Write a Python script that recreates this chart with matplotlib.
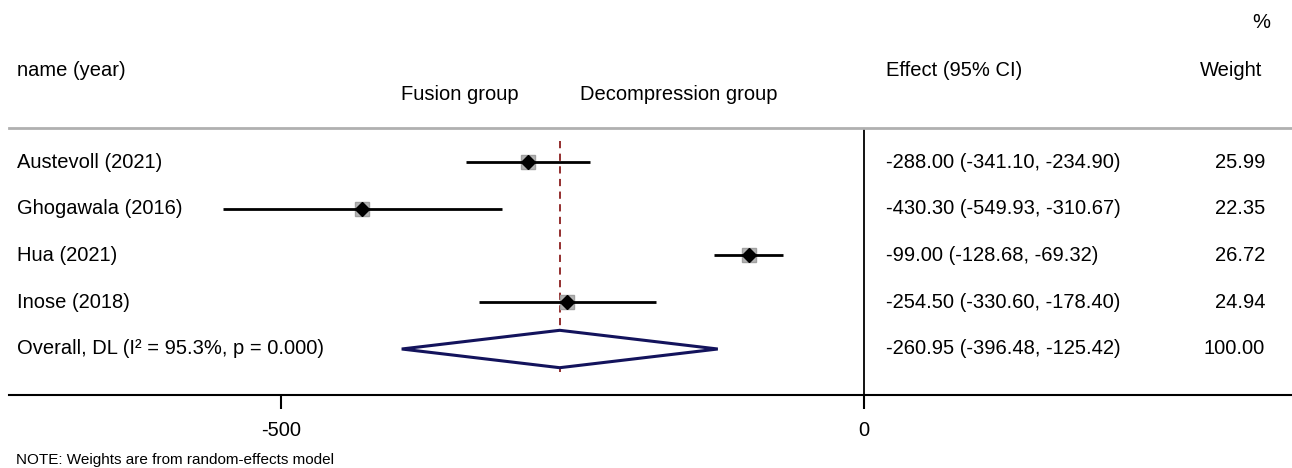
import matplotlib
matplotlib.use("Agg")
import matplotlib.pyplot as plt
import matplotlib.transforms as mtransforms
import numpy as np

plt.rcParams['font.family'] = ['Liberation Sans', 'DejaVu Sans']

studies = ["Austevoll (2021)", "Ghogawala (2016)", "Hua (2021)", "Inose (2018)"]
effects = [-288.00, -430.30, -99.00, -254.50]
lower = [-341.10, -549.93, -128.68, -330.60]
upper = [-234.90, -310.67, -69.32, -178.40]
weights = [25.99, 22.35, 26.72, 24.94]
overall_label = "Overall, DL (I\u00b2 = 95.3%, p = 0.000)"
overall_effect = -260.95
overall_lower = -396.48
overall_upper = -125.42
overall_weight = 100.00
xticks = [-500, 0]

W, H = 1292, 468
fig = plt.figure(figsize=(W / 100, H / 100), dpi=100)

def fx(px):
    return px / W

def fy(py):
    return 1 - py / H

# axes area: pixel x 9..1292, y 128..395
ax = fig.add_axes([fx(9), fy(395), fx(1292) - fx(9), fy(128) - fy(395)])
scale = 1.166  # px per unit
ax.set_xlim((9 - 864) / scale, (1292 - 864) / scale)
row_px = 46.75
ax.set_ylim(1 + (395 - 162) / row_px, 1 + (128 - 162) / row_px)

for s in ["left", "right"]:
    ax.spines[s].set_visible(False)
ax.spines["top"].set_color("#b0b0b0")
ax.spines["top"].set_linewidth(2.0)
ax.spines["bottom"].set_linewidth(1.5)
ax.set_yticks([])
ax.set_xticks(xticks)
ax.set_xticklabels([str(t) for t in xticks], fontsize=14.5)
ax.tick_params(axis="x", length=10, width=1.5, pad=9)

ax.axvline(0, color="black", lw=1.3)

n = len(studies)
ys = np.arange(1, n + 1)
ax.plot([overall_effect, overall_effect], [0.55, n + 1.5], color="#8b1f1f",
        lw=1.3, ls=(0, (4, 3)), zorder=1)

for i in range(n):
    y = ys[i]
    ax.plot([lower[i], upper[i]], [y, y], color="black", lw=2.0, zorder=3,
            solid_capstyle="butt")
    ax.plot(effects[i], y, marker="s", ms=10.2 * np.sqrt(weights[i] / 25.0),
            color="#b4b4b4", mec="#a0a0a0", zorder=2, ls="none")
    ax.plot(effects[i], y, marker="D", ms=7, color="black", zorder=4, ls="none")

yo = n + 1
dh = 0.40
ax.fill([overall_lower, overall_effect, overall_upper, overall_effect, overall_lower],
        [yo, yo - dh, yo, yo + dh, yo], facecolor="white", edgecolor="#13135c",
        lw=2.2, zorder=3)

trans = mtransforms.blended_transform_factory(fig.transFigure, ax.transData)
fs = 14.5
labels = studies + [overall_label]
eff_all = effects + [overall_effect]
lo_all = lower + [overall_lower]
hi_all = upper + [overall_upper]
w_all = weights + [overall_weight]
for i, lab in enumerate(labels):
    y = i + 1
    ax.text(fx(17), y, lab, transform=trans, ha="left", va="center", fontsize=fs,
            clip_on=False)
    ax.text(fx(886), y, f"{eff_all[i]:.2f} ({lo_all[i]:.2f}, {hi_all[i]:.2f})",
            transform=trans, ha="left", va="center", fontsize=fs, clip_on=False)
    ax.text(fx(1265), y, f"{w_all[i]:.2f}", transform=trans, ha="right",
            va="center", fontsize=fs, clip_on=False)

fig.text(fx(17), fy(70), "name (year)", ha="left", va="center", fontsize=fs)
fig.text(fx(519), fy(94), "Fusion group", ha="right", va="center", fontsize=fs)
fig.text(fx(580), fy(94), "Decompression group", ha="left", va="center", fontsize=fs)
fig.text(fx(886), fy(70), "Effect (95% CI)", ha="left", va="center", fontsize=fs)
fig.text(fx(1262), fy(70), "Weight", ha="right", va="center", fontsize=fs)
fig.text(fx(1270), fy(22), "%", ha="right", va="center", fontsize=fs)
fig.text(fx(16), fy(460), "NOTE: Weights are from random-effects model", ha="left",
         va="center", fontsize=11)

fig.savefig("out.png", dpi=100)
